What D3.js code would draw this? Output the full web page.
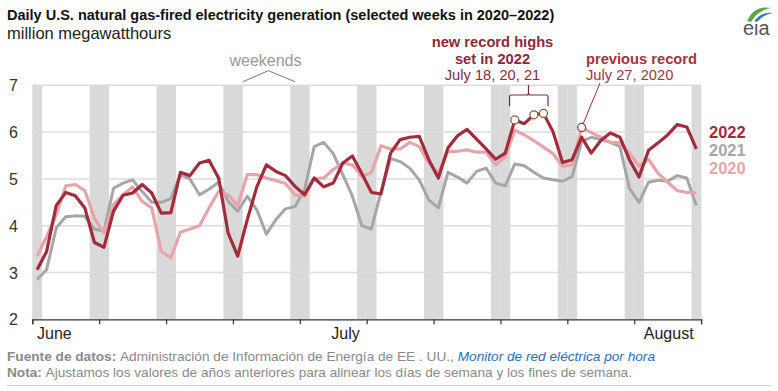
<!DOCTYPE html>
<html><head><meta charset="utf-8">
<script src="https://cdn.jsdelivr.net/npm/d3@7"></script>
<style>
html,body{margin:0;padding:0;background:#fff;}
svg{display:block;font-family:"Liberation Sans",Arial,sans-serif;}
</style></head>
<body>
<svg id="c" width="778" height="391"></svg>
<script>
// ---- data (day 0 = Sunday May 29, 2022; prior years aligned by weekday) ----
const years = ["2022", "2021", "2020"];
const v2022 = [3.06,3.45,4.43,4.71,4.64,4.38,3.64,3.54,4.31,4.65,4.70,4.88,4.70,4.27,4.28,5.14,5.07,5.34,5.40,5.02,3.84,3.35,4.13,4.83,5.30,5.16,5.07,4.84,4.66,5.02,4.83,4.91,5.34,5.49,5.11,4.71,4.68,5.55,5.84,5.89,5.91,5.41,5.02,5.66,5.92,6.06,5.85,5.64,5.42,5.55,6.26,6.18,6.37,6.40,6.01,5.35,5.41,5.89,5.55,5.82,5.98,5.89,5.41,5.04,5.61,5.77,5.94,6.16,6.11,5.64];
const v2021 = [2.85,3.06,3.95,4.19,4.21,4.20,3.93,3.88,4.80,4.91,4.98,4.73,4.50,4.50,4.58,5.09,5.00,4.66,4.78,4.93,4.52,4.31,4.63,4.34,3.82,4.13,4.36,4.41,4.77,5.69,5.78,5.54,5.09,4.63,4.00,3.93,4.73,5.44,5.37,5.23,4.98,4.55,4.38,5.14,5.04,4.91,5.16,5.23,4.91,4.85,5.32,5.28,5.14,5.02,4.98,4.95,5.05,5.80,5.89,5.84,5.78,5.69,4.80,4.50,4.93,4.97,4.95,5.07,5.02,4.43];
const v2020 = [3.35,3.77,4.23,4.85,4.88,4.75,4.16,3.84,4.45,4.66,4.83,4.52,4.38,3.45,3.31,3.86,3.93,4.00,4.38,4.73,4.66,4.43,5.09,5.09,5.02,4.96,4.90,4.66,4.63,5.00,5.02,5.20,5.34,5.30,5.05,5.14,5.71,5.64,5.64,5.78,5.69,5.34,5.12,5.59,5.59,5.62,5.57,5.57,5.30,5.47,6.04,5.94,5.82,5.68,5.54,5.27,5.30,6.10,5.99,5.89,5.78,5.77,5.55,5.27,5.42,5.12,4.93,4.75,4.71,4.70];
const weekendDays = [0,6,7,13,14,20,21,27,28,34,35,41,42,48,49,55,56,62,63,69];
const recordDays2022 = [50,52,53];
const prevRecordDay2020 = 57;
const yTicks = [2,3,4,5,6,7];
const weekTicks = [0,7,14,21,28,35,42,49,56,63,70];
const months = [{name:"June", day:0.5},{name:"July", day:31.3},{name:"August", day:64.0}];

const svg = d3.select("#c");
const x = d3.scaleLinear().domain([0,70]).range([32.3,701.1]);
const y = d3.scaleLinear().domain([2,7]).range([319.3,85.3]);
const dayX = d => x(d + 0.5);

// weekend bands
svg.append("g").selectAll("rect").data(weekendDays).join("rect")
  .attr("x", d => x(d)).attr("width", x(1)-x(0)+0.3)
  .attr("y", y(7)).attr("height", y(2)-y(7))
  .attr("fill", "#d9d9d9");

// gridlines
svg.append("g").selectAll("line").data(yTicks.filter(t => t > 2)).join("line")
  .attr("x1", x(0)).attr("x2", x(70))
  .attr("y1", d => y(d)).attr("y2", d => y(d))
  .attr("stroke", "#dcdcdc").attr("stroke-width", 1.5);

// y labels
svg.append("g").selectAll("text").data(yTicks).join("text")
  .attr("x", 18).attr("y", d => y(d) + 6)
  .attr("text-anchor", "end").attr("font-size", 16).attr("fill", "#333")
  .text(d => d);

// x axis
const xAxis = d3.axisBottom(x).tickValues(weekTicks).tickSize(5).tickFormat("");
const gx = svg.append("g").attr("transform", `translate(0,${y(2)})`).call(xAxis);
gx.select(".domain").attr("stroke", "#333").attr("stroke-width", 1.2);
gx.selectAll(".tick line").attr("stroke", "#333").attr("stroke-width", 1.2);

svg.append("g").selectAll("text").data(months).join("text")
  .attr("x", d => x(d.day)).attr("y", 339)
  .attr("font-size", 16).attr("fill", "#222")
  .text(d => d.name);

// lines
const line = d3.line().x((d,i) => dayX(i)).y(d => y(d));
const series = [
  {name:"2021", values:v2021, color:"#a6a6a6", w:3},
  {name:"2020", values:v2020, color:"#e8a4a9", w:3.2},
  {name:"2022", values:v2022, color:"#a22b3c", w:3.2}
];
svg.append("g").selectAll("path").data(series).join("path")
  .attr("d", d => line(d.values)).attr("fill", "none")
  .attr("stroke", d => d.color).attr("stroke-width", d => d.w)
  .attr("stroke-linejoin", "round");

// legend labels
const legend = [{name:"2022", color:"#a22b3c", v:6.0},{name:"2021", color:"#a6a6a6", v:5.62},{name:"2020", color:"#e8a4a9", v:5.24}];
svg.append("g").selectAll("text").data(legend).join("text")
  .attr("x", 709).attr("y", d => y(d.v) + 6)
  .attr("font-size", 16.5).attr("font-weight", "bold").attr("fill", d => d.color)
  .text(d => d.name);

// record annotations
svg.append("line").attr("x1", dayX(prevRecordDay2020)).attr("y1", y(v2020[prevRecordDay2020]))
  .attr("x2", 600).attr("y2", 83).attr("stroke", "#9b2c3c").attr("stroke-width", 1);
svg.append("circle").attr("cx", dayX(prevRecordDay2020)).attr("cy", y(v2020[prevRecordDay2020]))
  .attr("r", 4).attr("fill", "#fff").attr("stroke", "#a22b3c").attr("stroke-width", 1.2);
svg.append("g").selectAll("circle").data(recordDays2022).join("circle")
  .attr("cx", d => dayX(d)).attr("cy", d => y(v2022[d]))
  .attr("r", 4).attr("fill", "#fff").attr("stroke", "#7d5a2c").attr("stroke-width", 1.2);

// bracket
const bx1 = 509.5, bx2 = 548, bxm = 528.5, by = 95;
svg.append("path")
  .attr("d", `M${bx1},106 L${bx1},${by+2} Q${bx1},${by} ${bx1+2},${by} L${bxm-2},${by} Q${bxm},${by} ${bxm},${by-2} L${bxm},85 M${bxm},${by-2} Q${bxm},${by} ${bxm+2},${by} L${bx2-2},${by} Q${bx2},${by} ${bx2},${by+2} L${bx2},106`)
  .attr("fill", "none").attr("stroke", "#7a2a36").attr("stroke-width", 1.2);

const ann = svg.append("g").attr("fill", "#8c2a38").attr("font-size", 14.7);
ann.append("text").attr("x", 492.5).attr("y", 47).attr("text-anchor", "middle").attr("font-weight", "bold").text("new record highs");
ann.append("text").attr("x", 492.5).attr("y", 63.5).attr("text-anchor", "middle").attr("font-weight", "bold").text("set in 2022");
ann.append("text").attr("x", 492.5).attr("y", 80).attr("text-anchor", "middle").text("July 18, 20, 21");
ann.append("text").attr("x", 586).attr("y", 63.5).attr("font-weight", "bold").attr("fill", "#a3333f").text("previous record");
ann.append("text").attr("x", 586).attr("y", 80).attr("fill", "#a3333f").text("July 27, 2020");

// weekends annotation
svg.append("text").attr("x", 265.5).attr("y", 65.5).attr("text-anchor", "middle")
  .attr("font-size", 16).attr("fill", "#999").text("weekends");
svg.append("path").attr("d", "M243,81.7 L268.3,70.7 L295,81.7")
  .attr("fill", "none").attr("stroke", "#777").attr("stroke-width", 1);

// title
svg.append("text").attr("x", 7).attr("y", 20).attr("font-size", 14.5).attr("font-weight", "bold").attr("fill", "#111")
  .text("Daily U.S. natural gas-fired electricity generation (selected weeks in 2020\u20132022)");
svg.append("text").attr("x", 7).attr("y", 39).attr("font-size", 16.5).attr("fill", "#222")
  .text("million megawatthours");

// footer
const f1 = svg.append("text").attr("x", 7).attr("y", 361).attr("font-size", 13.5).attr("fill", "#8a8a8a")
  .attr("textLength", 648).attr("lengthAdjust", "spacingAndGlyphs");
f1.append("tspan").attr("font-weight", "bold").text("Fuente de datos: ");
f1.append("tspan").text("Administración de Información de Energía de EE . UU., ");
f1.append("tspan").attr("font-style", "italic").attr("fill", "#2a6ebb").text("Monitor de red eléctrica por hora");
const f2 = svg.append("text").attr("x", 7).attr("y", 377).attr("font-size", 13.5).attr("fill", "#8a8a8a")
  .attr("textLength", 625).attr("lengthAdjust", "spacingAndGlyphs");
f2.append("tspan").attr("font-weight", "bold").text("Nota: ");
f2.append("tspan").text("Ajustamos los valores de años anteriores para alinear los días de semana y los fines de semana.");
svg.append("line").attr("x1", 7).attr("x2", 771).attr("y1", 385.5).attr("y2", 385.5).attr("stroke", "#d0d0d0").attr("stroke-width", 1);

// logo
const logo = svg.append("g");
logo.append("path").attr("d", "M747,21 Q754,5 771,8 Q758,10 751,22 Z").attr("fill", "#5aa843");
logo.append("path").attr("d", "M755,20 Q763,11 773,13 Q764,14 758,21 Z").attr("fill", "#2a7bbf");
logo.append("text").attr("x", 743).attr("y", 35).attr("font-size", 20).attr("fill", "#555").text("eia");
</script>
</body></html>
